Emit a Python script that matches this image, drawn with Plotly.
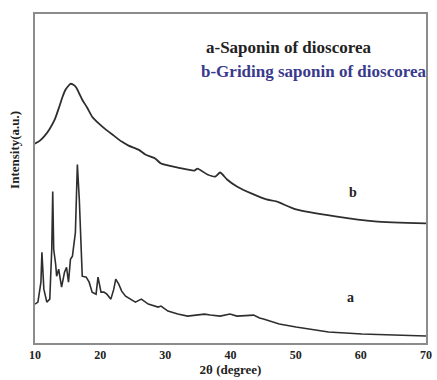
import plotly.graph_objects as go

# XRD pattern a: Saponin of dioscorea (crystalline)
two_theta_a = [10.0, 10.45, 10.91, 11.06, 11.36, 11.81, 12.27, 12.57, 12.72, 12.87,
               13.17, 13.32, 13.63, 14.08, 14.53, 14.84, 15.14, 15.44, 15.74, 16.20,
               16.50, 16.80, 17.25, 17.86, 18.31, 18.77, 19.37, 19.67, 20.13, 20.58,
               21.03, 21.64, 22.09, 22.39, 22.85, 23.30, 23.90, 24.36, 25.41, 26.32,
               27.38, 28.89, 29.34, 30.40, 31.91, 33.42, 36.0, 36.9, 38.41, 39.92,
               40.98, 43.55, 44.46, 45.06, 47.48, 50.05, 55.04, 60.17, 65.16, 70.0]
intensity_a = [39, 41, 61, 91, 54, 41, 44, 94, 152, 94,
               79, 67, 74, 56, 71, 76, 61, 84, 87, 111,
               179, 144, 67, 66, 61, 51, 49, 66, 51, 51,
               49, 44, 54, 64, 59, 52, 47, 45, 41, 44,
               39, 36, 37, 32, 29, 27, 29, 28, 27, 29,
               27, 28, 25, 24, 19, 16, 11, 9, 8, 7]

# XRD pattern b: Griding saponin of dioscorea (amorphous halo)
two_theta_b = [10.0, 10.76, 11.51, 12.27, 13.02, 13.78, 14.23, 14.68, 15.14, 15.44,
               15.89, 16.35, 16.80, 17.25, 18.01, 18.77, 19.82, 20.88, 22.09, 23.30,
               24.36, 25.87, 26.93, 28.44, 29.34, 31.91, 34.48, 34.94, 36.45, 37.66,
               38.41, 39.47, 40.98, 43.55, 45.51, 47.03, 50.05, 56.09, 62.14, 70.0]
intensity_b = [200, 203, 208, 215, 224, 238, 247, 254, 258, 260,
               259, 256, 250, 244, 236, 227, 220, 214, 208, 202,
               198, 194, 189, 185, 180, 176, 173, 175, 169, 167,
               171, 164, 157, 149, 144, 142, 134, 127, 122, 120]

x_ticks = [10, 20, 30, 40, 50, 60, 70]

serif = "Liberation Serif"
line_col = "#2e2e2e"

fig = go.Figure()
fig.add_trace(go.Scatter(x=two_theta_a, y=intensity_a, mode="lines",
                         line=dict(color=line_col, width=1.6), showlegend=False))
fig.add_trace(go.Scatter(x=two_theta_b, y=intensity_b, mode="lines",
                         line=dict(color=line_col, width=1.8, shape="spline", smoothing=0.6),
                         showlegend=False))

fig.update_layout(
    width=437, height=380,
    margin=dict(l=35, r=5, t=14, b=36),
    paper_bgcolor="white", plot_bgcolor="white",
    xaxis=dict(range=[10, 70], tickvals=x_ticks,
               ticktext=["<b>%d</b>" % v for v in x_ticks],
               showgrid=False, zeroline=False, showline=True, mirror=True,
               linecolor="#8c8c8c", linewidth=1.5, ticks="",
               tickfont=dict(family=serif, size=12, color="#222"),
               title=dict(text="<b>2θ (degree)</b>", standoff=4,
                          font=dict(family=serif, size=13, color="#222"))),
    yaxis=dict(range=[0, 330], showticklabels=False, showgrid=False, zeroline=False,
               showline=True, mirror=True, linecolor="#8c8c8c", linewidth=1.5, ticks=""),
    font=dict(family=serif),
)

annotations = [
    dict(text="a-Saponin of dioscorea", x=207, y=380 - 48, color="#222"),
    dict(text="b-Griding saponin of dioscorea", x=202, y=380 - 72, color="#3a3a8c"),
]
for a in annotations:
    fig.add_annotation(text="<b>%s</b>" % a["text"], xref="paper", yref="paper",
                       x=(a["x"] - 35) / 397, y=(a["y"] - 36) / 330,
                       xanchor="left", yanchor="middle", showarrow=False,
                       font=dict(family=serif, size=17, color=a["color"]))

# curve labels
fig.add_annotation(text="<b>b</b>", x=58.8, y=151, showarrow=False,
                   font=dict(family=serif, size=14, color="#222"))
fig.add_annotation(text="<b>a</b>", x=58.4, y=46, showarrow=False,
                   font=dict(family=serif, size=14, color="#222"))

# y-axis title
fig.add_annotation(text="<b>Intensity(a.u.)</b>", xref="paper", yref="paper",
                   x=(14 - 35) / 397, y=(380 - 150 - 36) / 330,
                   xanchor="center", yanchor="middle", textangle=-90, showarrow=False,
                   font=dict(family=serif, size=13, color="#222"))

fig.write_html("out.html")
